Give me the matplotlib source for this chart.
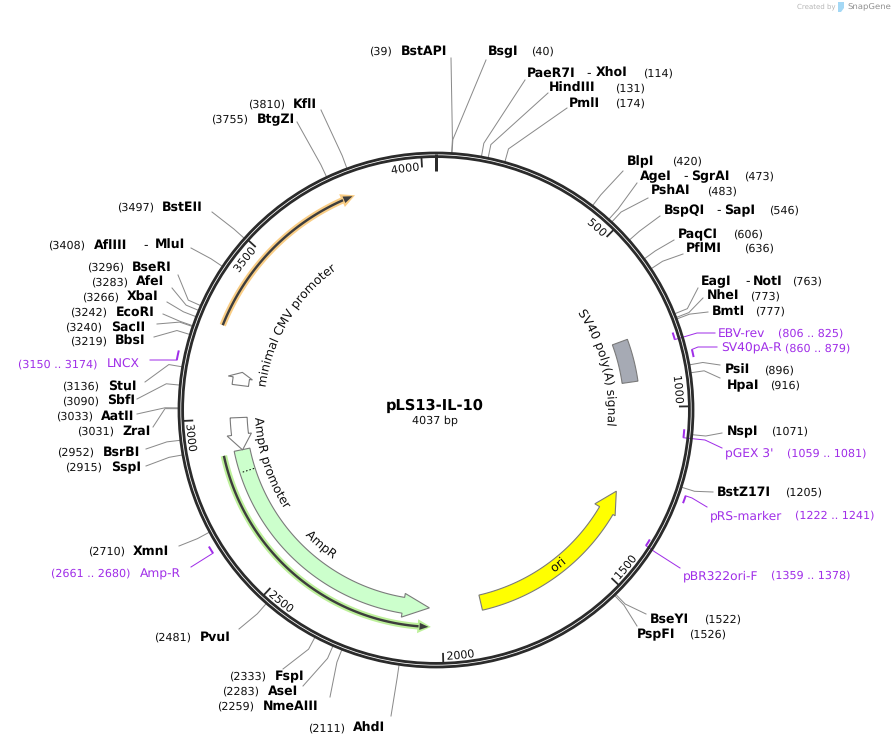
import numpy as np
from matplotlib import pyplot as plt
from matplotlib import patheffects as pe
from matplotlib.font_manager import FontProperties
from matplotlib.patches import Circle, Polygon

plt.rcParams['font.family'] = ['DejaVu Sans']
plt.rcParams['text.hinting'] = 'no_hinting'

total_bp = 4037
plasmid_name = 'pLS13-IL-10'
size_label = '4037 bp'
tick_values = [500, 1000, 1500, 2000, 2500, 3000, 3500, 4000]

# cut sites
site_names = ['BstAPI', 'BsgI', 'PaeR7I', 'HindIII', 'PmlI', 'BlpI', 'AgeI', 'PshAI', 'BspQI', 'PaqCI', 'PflMI',
              'EagI', 'NheI', 'BmtI', 'PsiI', 'HpaI', 'NspI', 'BstZ17I', 'BseYI', 'PspFI',
              'AhdI', 'NmeAIII', 'AseI', 'FspI', 'PvuI', 'XmnI', 'SspI', 'BsrBI', 'ZraI', 'AatII', 'SbfI', 'StuI',
              'BbsI', 'SacII', 'EcoRI', 'XbaI', 'AfeI', 'BseRI', 'AflIII', 'BstEII', 'BtgZI', 'KflI']
site_bp = [39, 40, 114, 131, 174, 420, 473, 483, 546, 606, 636,
           763, 773, 777, 896, 916, 1071, 1205, 1522, 1526,
           2111, 2259, 2283, 2333, 2481, 2710, 2915, 2952, 3031, 3033, 3090, 3136,
           3219, 3240, 3242, 3266, 3283, 3296, 3408, 3497, 3755, 3810]

# where each site label sits in the picture
site_name_x = [401, 488, 527, 549, 569, 627, 640, 651, 664, 678, 686,
               701, 707, 712, 725, 727, 727, 717, 650, 637,
               353, 263, 268, 275, 200, 133, 111, 103, 122, 101, 107, 108,
               115, 111, 116, 127, 136, 132, 94, 162, 257, 293]
site_num_x = [369, 531, 643, 615, 615, 672, 744, 707, 769, 733, 744,
              792, 750, 755, 764, 770, 771, 785, 704, 689,
              308, 217, 222, 229, 154, 88, 65, 57, 77, 56, 62, 62,
              70, 65, 70, 82, 91, 87, 48, 117, 211, 248]
site_y = [51, 51, 73, 88, 103, 161, 176, 191, 210, 234, 248,
          281, 296, 311, 370, 385, 431, 492, 619, 634,
          728, 706, 691, 676, 637, 551, 467, 452, 431, 416, 401, 386,
          341, 327, 312, 297, 282, 267, 245, 207, 119, 104]
site_end_x = [451, 486, 525, 548, 567, 623, 637, 648, 660, 674, 683,
              698, 703, 708, 720, 720, 722, 713, 646, 637,
              391, 330, 303, 283, 239, 179, 146, 146, 153, 137, 137, 145,
              154, 157, 163, 167, 172, 178, 191, 212, 297, 321]
site_end_y = [58, 60, 80, 93, 108, 171, 183, 198, 216, 240, 254,
              288, 298, 312, 365, 378, 433, 492, 614, 626,
              716, 697, 686, 669, 629, 546, 466, 449, 427, 414, 399, 382,
              337, 324, 314, 302, 288, 275, 248, 212, 122, 110]

# sites that share a label with a second enzyme
pair_first = ['PaeR7I', 'AgeI', 'BspQI', 'EagI', 'AflIII']
pair_second = ['XhoI', 'SgrAI', 'SapI', 'NotI', 'MluI']
pair_dash_x = [586, 683, 716, 745, 143]
pair_second_x = [596, 691, 724, 753, 155]

# primers
primer_names = ['EBV-rev', 'SV40pA-R', "pGEX 3'", 'pRS-marker', 'pBR322ori-F', 'Amp-R', 'LNCX']
primer_start = [806, 860, 1059, 1222, 1359, 2661, 3150]
primer_stop = [825, 879, 1081, 1241, 1378, 2680, 3174]
primer_hook = [825, 860, 1081, 1222, 1378, 2661, 3150]
primer_radius = [249, 263, 249, 264, 250, 265, 264]
primer_name_x = [718, 721, 725, 710, 683, 140, 107]
primer_num_x = [778, 785, 787, 795, 771, 51, 18]
primer_y = [333, 348, 453, 515, 575, 573, 364]
primer_mid_x = [697, 698, 705, 692, 655, None, 167]
primer_mid_y = [333, 347, 440, 498, 552, None, 360]
primer_end_x = [715, 717, 722, 707, 680, 191, 150]
primer_end_y = [333, 347, 448, 507, 568, 567, 360]

line_grey = '#8a8a8a'
purple = '#a02ee8'
ring_col = '#2b2b2b'

cx, cy = 436, 410

fig = plt.figure(figsize=(8.95, 7.47), dpi=100)
ax = fig.add_axes([0, 0, 1, 1])
ax.set_xlim(0, 895)
ax.set_ylim(747, 0)
ax.axis('off')

renderer = fig.canvas.get_renderer()


def px(w):
    return w * 0.72


def to_xy(bp, r):
    a = np.radians(np.asarray(bp, dtype=float) / total_bp * 360)
    return cx + r * np.sin(a), cy - r * np.cos(a)


def arc(b0, b1, r, n=80):
    return to_xy(np.linspace(b0, b1, n), r)


def block_arrow(start, tip, head, r0, r1, h0, h1, fill):
    # feature arrow, head=None gives a plain block
    if head is None:
        xa, ya = arc(start, tip, r1)
        xb, yb = arc(tip, start, r0)
        pts = list(zip(xa, ya)) + list(zip(xb, yb))
    else:
        xa, ya = arc(start, head, r1)
        xb, yb = arc(head, start, r0)
        pts = list(zip(xa, ya))
        pts.append(to_xy(head, h1))
        pts.append(to_xy(tip, (r0 + r1) / 2))
        pts.append(to_xy(head, h0))
        pts += list(zip(xb, yb))
    ax.add_patch(Polygon(pts, closed=True, fc=fill, ec='#7a7a7a', lw=px(1.1), zorder=3))


def thin_arrow(start, tip, r, halo):
    step = 2.6 / 360 * total_bp * np.sign(tip - start)
    x, y = arc(start, tip - step, r)
    ax.plot(x, y, color=halo, lw=px(6.5), solid_capstyle='butt', zorder=3)
    ax.add_patch(Polygon([to_xy(tip - step * 1.1, r - 7), to_xy(tip + step * 0.25, r), to_xy(tip - step * 1.1, r + 7)],
                         fc=halo, ec='none', zorder=3))
    ax.plot(x, y, color='#3d3d3d', lw=px(2.4), solid_capstyle='butt', zorder=4)
    ax.add_patch(Polygon([to_xy(tip - step * 0.9, r - 3.5), to_xy(tip, r), to_xy(tip - step * 0.9, r + 3.5)],
                         fc='#3d3d3d', ec='none', zorder=4))


def arc_text(s, r, deg, outward=True, align='center', size=8.8):
    # text bent round the circle, one character at a time
    fp = FontProperties(family='DejaVu Sans', size=size)
    bar = renderer.get_text_width_height_descent('|', fp, False)[0]

    def width(t):
        return renderer.get_text_width_height_descent(t + '|', fp, False)[0] - bar

    whole = width(s)
    shift = {'start': 0, 'center': -whole / 2, 'end': -whole}[align]
    sign = 1 if outward else -1
    for i, ch in enumerate(s):
        mid = (width(s[:i]) + width(s[:i + 1])) / 2 + shift
        a = deg + sign * np.degrees(mid / r)
        x, y = to_xy(a / 360 * total_bp, r)
        rot = -a if outward else 180 - a
        # Normal path effect keeps the glyph off the whole-pixel grid
        ax.text(x, y, ch, fontproperties=fp, rotation=rot, rotation_mode='anchor',
                ha='center', va='baseline', color='#111111', zorder=5, path_effects=[pe.Normal()])


# ring
ax.add_patch(Circle((cx, cy), 257, fill=False, ec=ring_col, lw=px(2.8), zorder=2))
ax.add_patch(Circle((cx, cy), 253.4, fill=False, ec=ring_col, lw=px(2.8), zorder=2))

# ticks
x0, y0 = to_xy(0, 256)
x1, y1 = to_xy(0, 239)
ax.plot([x0, x1], [y0, y1], color=ring_col, lw=px(3), solid_capstyle='butt', zorder=2)
for t in tick_values:
    x0, y0 = to_xy(t, 253)
    x1, y1 = to_xy(t, 243)
    ax.plot([x0, x1], [y0, y1], color=ring_col, lw=px(1.8), solid_capstyle='butt', zorder=2)
    deg = t / total_bp * 360
    if 90 < deg < 270 or t == 3000:
        arc_text(str(t), 250, deg - 0.8, outward=False, align='start', size=8)
    else:
        arc_text(str(t), 240, deg - 0.6, outward=True, align='end', size=8)

# site leaders and labels
for i, name in enumerate(site_names):
    xr, yr = to_xy(site_bp[i], 258)
    xe, ye = to_xy(site_bp[i], 271)
    ax.plot([xr, xe, site_end_x[i]], [yr, ye, site_end_y[i]], color=line_grey, lw=px(1), zorder=1)
    ax.text(site_name_x[i], site_y[i] + 4, name, fontsize=9, fontweight='bold', color='black', va='baseline')
    ax.text(site_num_x[i], site_y[i] + 4, '(%d)' % site_bp[i], fontsize=8, color='#111111', va='baseline')

for i, first in enumerate(pair_first):
    row = site_y[site_names.index(first)] + 4
    ax.text(pair_dash_x[i], row, '-', fontsize=9, color='#111111', va='baseline')
    ax.text(pair_second_x[i], row, pair_second[i], fontsize=9, fontweight='bold', color='black', va='baseline')

# primers
for i, name in enumerate(primer_names):
    x, y = arc(primer_start[i], primer_stop[i], primer_radius[i], n=8)
    ax.plot(x, y, color=purple, lw=px(2), solid_capstyle='butt', zorder=3)
    xs, ys = to_xy(primer_hook[i], primer_radius[i])
    lx = [xs, primer_end_x[i]]
    ly = [ys, primer_end_y[i]]
    if primer_mid_x[i] is not None:
        lx.insert(1, primer_mid_x[i])
        ly.insert(1, primer_mid_y[i])
    ax.plot(lx, ly, color=purple, lw=px(1), zorder=1)
    ax.text(primer_name_x[i], primer_y[i] + 4, name, fontsize=8.8, color=purple, va='baseline')
    ax.text(primer_num_x[i], primer_y[i] + 4, '(%d .. %d)' % (primer_start[i], primer_stop[i]),
            fontsize=8, color=purple, va='baseline')

# features
block_arrow(2898, 2040, 2125, 190, 206, 186, 210, '#ccffcc')
block_arrow(3003, 2897, 2948, 189, 206, 186, 210.5, 'white')
block_arrow(3108, 3151, 3132, 189, 205.5, 186, 210.5, 'white')
block_arrow(1872, 1281, 1352, 190, 205.5, 184.5, 208, '#ffff00')
block_arrow(782, 918, None, 188, 204, None, None, '#a6aab4')

xd, yd = zip(to_xy(2828, 191), to_xy(2828, 205))
ax.plot(xd, yd, color='black', lw=px(1), ls=(0, (1.5, 2)), zorder=4)

thin_arrow(3271, 3798, 229.5, '#f9cd85')
thin_arrow(2891, 2041, 217, '#bdf09a')

arc_text('minimal CMV promoter', 172, 301, outward=True)
arc_text('SV40 poly(A) signal', 172, 75.5, outward=True)
arc_text('AmpR promoter', 181, 267.5, outward=False, align='start')
arc_text('AmpR', 181, 220.4, outward=False)
arc_text('ori', 201, 141.8, outward=False)

# centre title
ax.text(435, 406, plasmid_name, fontsize=10.5, fontweight='bold', ha='center', va='center', color='black')
ax.text(435, 421, size_label, fontsize=8, ha='center', va='center', color='#111111')

# watermark
ax.text(797, 7, 'Created by', fontsize=5, color='#b5b5b5', va='center')
ax.add_patch(Polygon([(838, 2), (844, 2), (844, 8), (841, 12), (838, 12)], fc='#a4d8f5', ec='none'))
ax.text(847, 7, 'SnapGene', fontsize=6.1, color='#8f8f8f', va='center')

fig.savefig('out.png', dpi=100)
